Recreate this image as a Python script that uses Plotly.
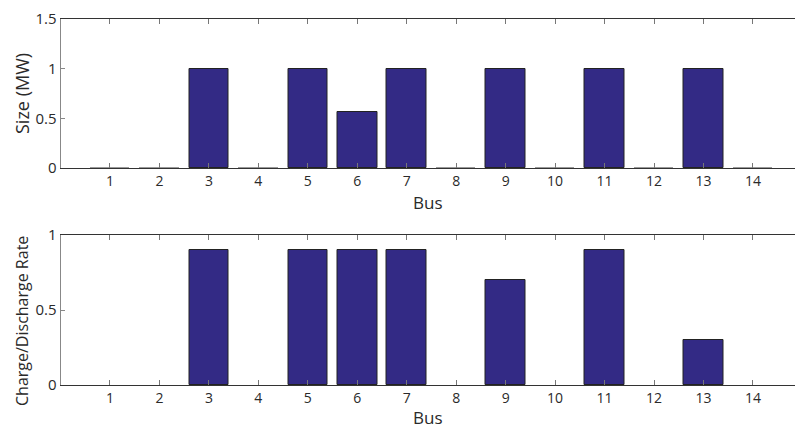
import plotly.graph_objects as go

buses = list(range(1, 15))
size_mw = [0.003, 0.003, 1, 0.003, 1, 0.56, 1, 0.003, 1, 0.003, 1, 0.003, 1, 0.003]
rate = [0, 0, 0.9, 0, 0.9, 0.9, 0.9, 0, 0.7, 0, 0.9, 0, 0.3, 0]
xticks = [str(b) for b in buses]

BAR = "#332a85"
EDGE = "#222222"
W, H = 795, 429
font = "Open Sans"
TXT = "#2a2a2a"

top_edge_colors = [EDGE if v > 0.01 else "#999999" for v in size_mw]
bot_edge_widths = [1 if v > 0 else 0 for v in rate]

fig = go.Figure()
fig.add_trace(go.Bar(x=buses, y=size_mw, width=0.8,
                     marker=dict(color=BAR, line=dict(color=top_edge_colors, width=1)),
                     xaxis="x", yaxis="y", showlegend=False))
fig.add_trace(go.Bar(x=buses, y=rate, width=0.8,
                     marker=dict(color=BAR, line=dict(color=EDGE, width=bot_edge_widths)),
                     xaxis="x2", yaxis="y2", showlegend=False))

def px_y(p):
    return 1 - p / H

xdom = [60.5 / W, 1.0]
common_x = dict(range=[0, 14.85], tickmode="array", tickvals=buses, ticktext=xticks,
                ticks="inside", ticklen=5, tickcolor="#777777", showline=True, linecolor="#333333",
                linewidth=1, mirror="ticks", showgrid=False, zeroline=False, automargin=False,
                tickfont=dict(family=font, size=14, color=TXT), domain=xdom)
common_y = dict(ticks="inside", ticklen=4, tickcolor="#888888", showline=True, linecolor="#888888",
                linewidth=1, showgrid=False, zeroline=False, automargin=False,
                tickfont=dict(family=font, size=15, color=TXT))

fig.update_layout(
    width=W, height=H, margin=dict(l=0, r=0, t=0, b=0, autoexpand=False),
    paper_bgcolor="white", plot_bgcolor="white", bargap=0,
    xaxis=dict(**common_x, anchor="y",
               title=dict(text="Bus", font=dict(family=font, size=17, color=TXT), standoff=8)),
    yaxis=dict(**common_y, range=[0, 1.5], tickvals=[0, 0.5, 1, 1.5], ticktext=["0", "0.5", "1", "1.5"],
               domain=[px_y(168), px_y(19)], anchor="x"),
    xaxis2=dict(**common_x, anchor="y2",
                title=dict(text="Bus", font=dict(family=font, size=17, color=TXT), standoff=6)),
    yaxis2=dict(**common_y, range=[0, 1], tickvals=[0, 0.5, 1], ticktext=["0", "0.5", "1"],
                domain=[px_y(385), px_y(235)], anchor="x2"),
    annotations=[
        dict(text="Size (MW)", x=22 / W, y=px_y(94), xref="paper", yref="paper", textangle=-90,
             xanchor="center", yanchor="middle",
             showarrow=False, font=dict(family=font, size=18, color=TXT)),
        dict(text="Charge/Discharge Rate", x=22 / W, y=px_y(321), xref="paper", yref="paper", textangle=-90,
             xanchor="center", yanchor="middle",
             showarrow=False, font=dict(family=font, size=16, color=TXT)),
    ],
)

fig.write_html("out.html")
